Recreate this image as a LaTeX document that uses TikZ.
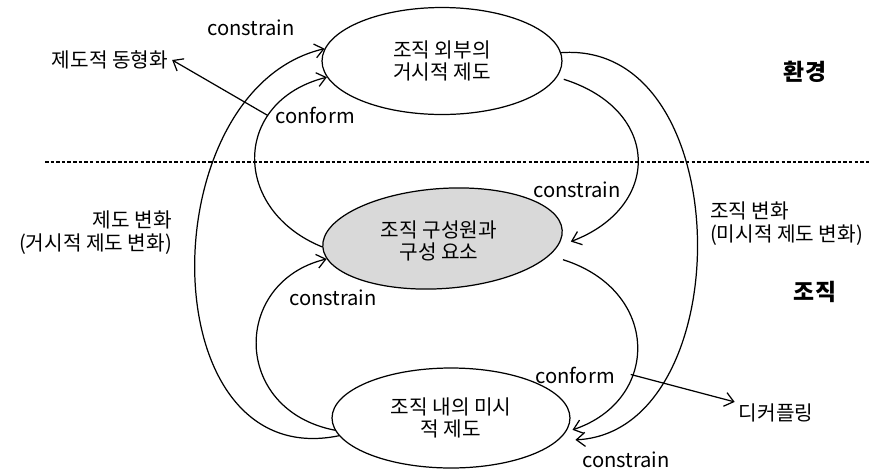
\documentclass[tikz,border=0pt]{standalone}
\usepackage{fontspec}
\setmainfont{Noto Sans CJK KR}
\usepackage{tikz}
\usetikzlibrary{arrows.meta,shapes,positioning}
\tikzset{
  every picture/.style = {
    line width = 0.7pt,
    >={Straight Barb[length=5pt,width=8pt]},
    x = 0.02cm,
    y = -0.02cm
  }
  ,
  inst/.style = {
    ellipse,
    draw,
    inner sep = 0pt,
    minimum width = 4.8cm,
    minimum height = 2.14cm,
    font = \fontsize{11.5}{13}\selectfont,
    align = center
  }
  , % labels of edges
  label-edge/.style = {
    font = \fontsize{11.5}{13}\selectfont,
    inner sep = 2pt
  }
  , % labels of levels
  label-level/.style = {
    font = \fontsize{13}{15}\selectfont\bfseries
  }
}

\begin{document}
\begin{tikzpicture}
  \useasboundingbox (0,0) rectangle (877,471);
  % institutions
  \node[inst] (macro) at (442,61) {조직 외부의\\거시적 제도};
  \node[inst, fill=gray!30, minimum height=2cm, rotate=4] (mem) at (442.5,238.5) {};
  \node[label-edge, align=center] (memtext) at (439,241) {조직 구성원과\\구성 요소};
  \node[inst, minimum width=4.76cm, minimum height=2cm] (mic) at (451,418) {조직 내의 미시\\적 제도};
  % levels
  \draw[dashed, line width=0.6pt, dash pattern=on 2pt off 1.2pt] (45,162) -- (870,162);
  \node[label-level] (env) at (805,72) {환경};
  \node[label-level] (org) at (815,292) {조직};
  % labels
  \node[label-edge] (c1) at (251,28) {constrain};
  \node[label-edge] (iso) at (110,60) {제도적 동형화};
  \node[label-edge] (f1) at (315,115) {conform};
  \node[label-edge] (c2) at (577,190) {constrain};
  \node[label-edge, align=left, anchor=west] (ochg) at (706,224) {조직 변화\\(미시적 제도 변화)};
  \node[label-edge, align=right, anchor=east] (ichg) at (176,233) {제도 변화\\(거시적 제도 변화)};
  \node[label-edge] (c3) at (333,298) {constrain};
  \node[label-edge] (f2) at (575,375) {conform};
  \node[label-edge] (dec) at (776,413) {디커플링};
  \node[label-edge] (c4) at (626,460) {constrain};
  % left side
  \draw[->] (mic.189) .. controls +(-190,39) and +(-175,41) .. (macro.174);
  \draw[->] (mem.west) .. controls +(-91,-37) and +(-95,24) .. (macro.188)
    coordinate[pos=0.71] (s1);
  \draw[->] (mic.186) .. controls +(-103.5,-20) and +(-95,23) .. (mem.186);
  \draw[->] (s1) -- (iso.east);
  % right side
  \draw[->, shorten <=4pt, shorten >=8pt] (macro.352) .. controls +(104.5,33) and +(104,-39.5) .. (mem.352);
  \draw[->, shorten >=10pt] (macro.4) .. controls +(178.5,-13) and +(183,-9) .. (mic.348);
  \draw[->, shorten <=8pt, shorten >=4pt] (mem.347) .. controls +(111,35) and +(95,-32) .. (mic.353)
    coordinate[pos=0.64] (s2);
  \draw[->] (s2) -- (dec.165);
\end{tikzpicture}
\end{document}
